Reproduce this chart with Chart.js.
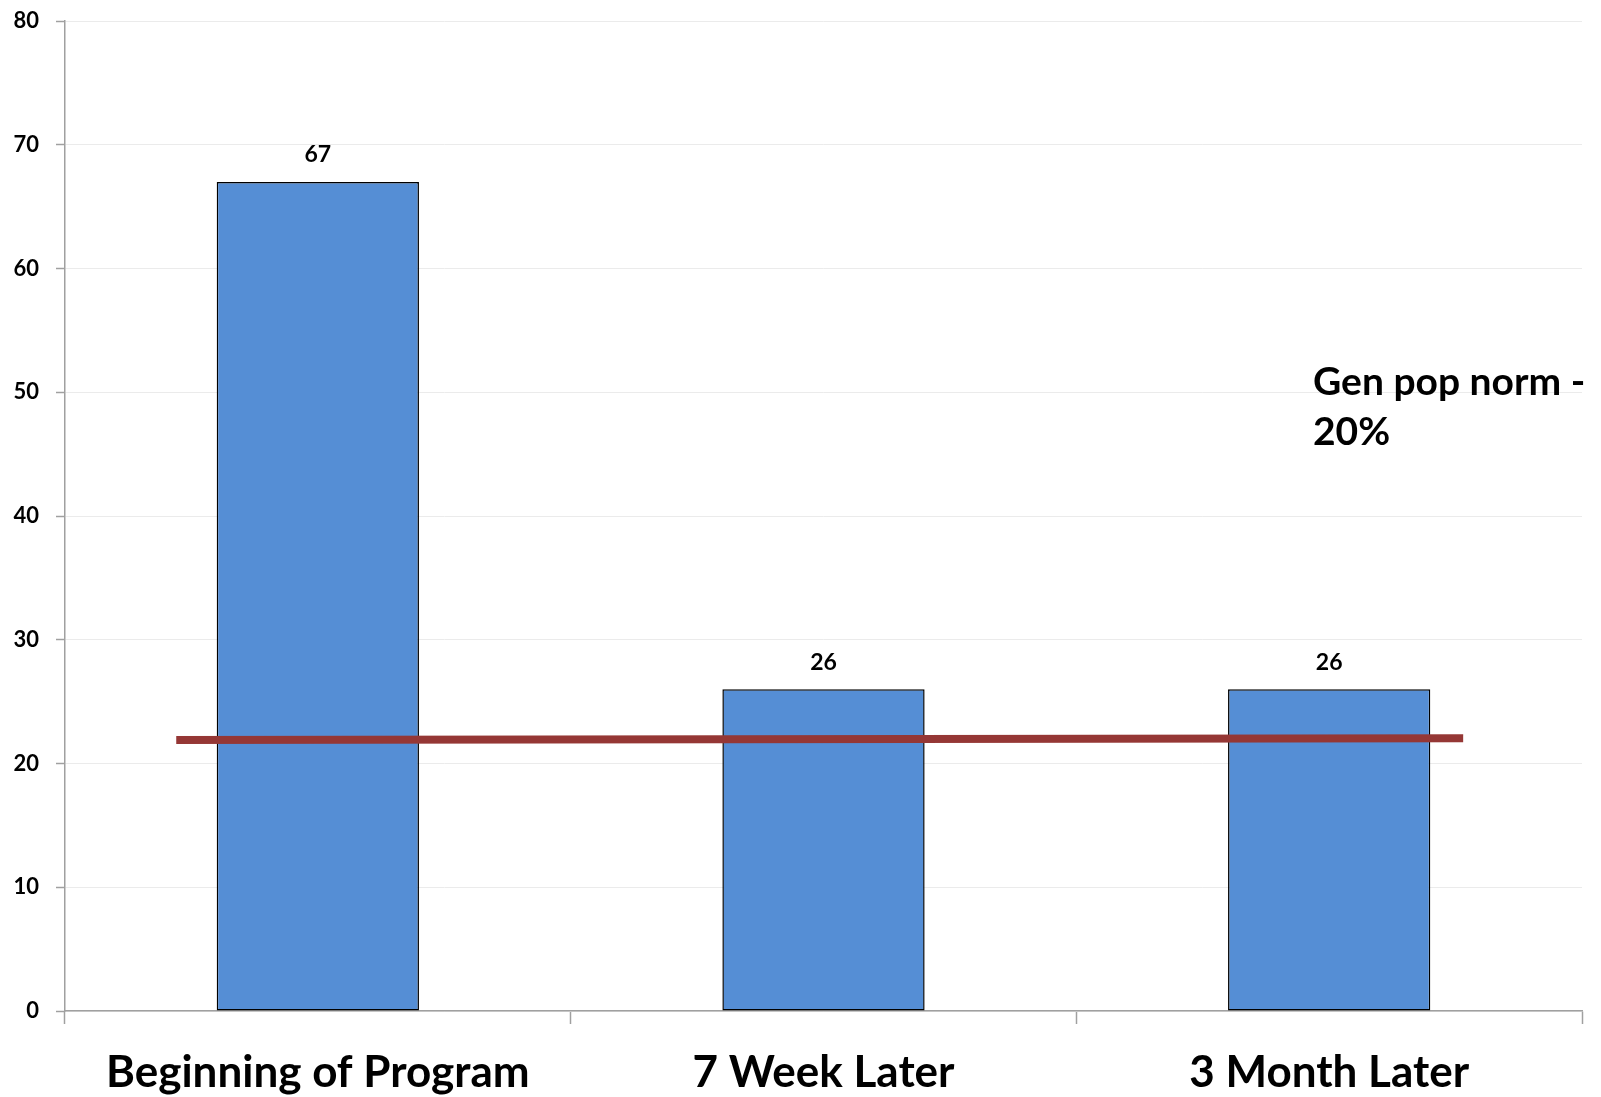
<!DOCTYPE html>
<html>
<head>
<meta charset="utf-8">
<script src="https://cdn.jsdelivr.net/npm/chart.js@4/dist/chart.umd.min.js"></script>
<style>
  html, body { margin: 0; padding: 0; background: #ffffff; }
  #wrap { width: 1601px; height: 1097px; }
</style>
</head>
<body>
<div id="wrap"><canvas id="c" width="1601" height="1097"></canvas></div>
<script>
// ---- data ----
const categories = ["Beginning of Program", "7 Week Later", "3 Month Later"];
const scores = [67, 26, 26];
const yTicks = [0, 10, 20, 30, 40, 50, 60, 70, 80];
const normLineX = [-0.28, 2.265];     // positions along category index
const normLineY = [21.9, 22.05];
const normNote = ["Gen pop norm -", "20%"];

const FONT = "Lato, 'Open Sans', sans-serif";

const barLabels = {
  id: 'barLabels',
  afterDatasetsDraw(chart) {
    const ctx = chart.ctx;
    const meta = chart.getDatasetMeta(0);
    ctx.save();
    ctx.font = "bold 23px " + FONT;
    ctx.fillStyle = '#000';
    ctx.textAlign = 'center';
    ctx.textBaseline = 'middle';
    meta.data.forEach((bar, i) => {
      ctx.fillText(String(scores[i]), bar.x, bar.y - 27);
    });
    ctx.restore();
  }
};

const noteText = {
  id: 'noteText',
  afterDraw(chart) {
    const ctx = chart.ctx;
    const a = chart.chartArea;
    ctx.save();
    ctx.font = "bold 39px " + FONT;
    ctx.fillStyle = '#000';
    ctx.textAlign = 'left';
    ctx.textBaseline = 'alphabetic';
    const x = a.left + 1248;
    ctx.fillText(normNote[0], x, 395);
    ctx.fillText(normNote[1], x, 445);
    ctx.restore();
  }
};

function build() {
  new Chart(document.getElementById('c'), {
    data: {
      labels: categories,
      datasets: [
        {
          type: 'bar',
          data: scores,
          backgroundColor: '#558ED5',
          borderColor: '#000000',
          borderWidth: 1.5,
          borderSkipped: false,
          barPercentage: 0.4,
          categoryPercentage: 1.0,
          grouped: false,
          order: 1
        },
        {
          type: 'line',
          xAxisID: 'xl',
          data: normLineX.map((x, i) => ({ x: x, y: normLineY[i] })),
          borderColor: '#953735',
          borderWidth: 8,
          borderCapStyle: 'butt',
          pointRadius: 0,
          fill: false,
          order: 0
        }
      ]
    },
    options: {
      responsive: false,
      animation: false,
      layout: { padding: { top: 21, right: 19, left: 0, bottom: 0 } },
      plugins: { legend: { display: false }, tooltip: { enabled: false } },
      scales: {
        x: {
          type: 'category',
          offset: true,
          grid: {
            offset: true,
            drawOnChartArea: false,
            drawTicks: true,
            tickLength: 13,
            tickColor: '#a0a0a0',
            tickWidth: 1.5
          },
          border: { color: '#a0a0a0', width: 1.5 },
          ticks: {
            color: '#000',
            font: { family: FONT, size: 44, weight: 'bold' },
            padding: 22,
            maxRotation: 0
          },
          afterFit(scale) { scale.height = 86; scale.paddingLeft = 0; scale.paddingRight = 0; }
        },
        xl: {
          type: 'linear',
          display: false,
          min: -0.5,
          max: 2.5
        },
        y: {
          min: 0,
          max: 80,
          afterBuildTicks(scale) { scale.ticks = yTicks.map(v => ({ value: v })); },
          grid: {
            color: '#ebebeb',
            lineWidth: 1,
            drawTicks: true,
            tickLength: 9,
            tickColor: '#a0a0a0',
            tickWidth: 1.5
          },
          border: { color: '#a0a0a0', width: 1.5 },
          ticks: {
            color: '#000',
            font: { family: FONT, size: 22, weight: 'bold' },
            padding: 17
          },
          afterFit(scale) { scale.width = 65; scale.paddingTop = 0; scale.paddingBottom = 0; }
        }
      }
    },
    plugins: [barLabels, noteText]
  });
}

if (document.fonts && document.fonts.load) {
  Promise.all([
    document.fonts.load("bold 22px Lato"),
    document.fonts.load("bold 44px Lato")
  ]).then(build, build);
} else {
  build();
}
</script>
</body>
</html>
